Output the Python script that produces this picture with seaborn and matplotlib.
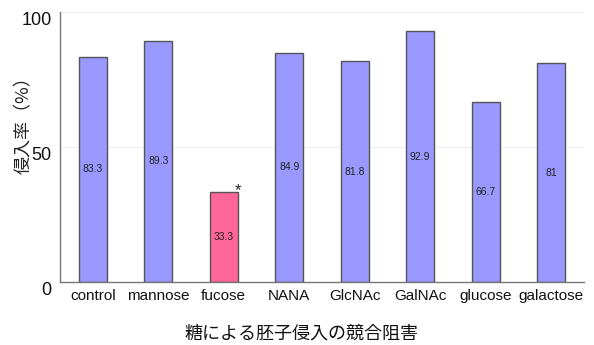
import matplotlib
matplotlib.use("Agg")
import matplotlib.pyplot as plt
import seaborn as sns
import pandas as pd

categories = ["control", "mannose", "fucose", "NANA", "GlcNAc", "GalNAc", "glucose", "galactose"]
values = [83.3, 89.3, 33.3, 84.9, 81.8, 92.9, 66.7, 81]
value_labels = ["83.3", "89.3", "33.3", "84.9", "81.8", "92.9", "66.7", "81"]
highlight = ["fucose"]
yticks = [0, 50, 100]

sns.set_style("white")
plt.rcParams['font.family'] = ['Liberation Sans', 'Noto Sans CJK JP', 'DejaVu Sans']

df = pd.DataFrame({"cat": categories, "val": values})
palette = {c: ("#FF6699" if c in highlight else "#9999FF") for c in categories}

fig = plt.figure(figsize=(5.94, 3.45), dpi=100)
ax = fig.add_axes([0.101, 0.183, 0.882, 0.782])
sns.barplot(data=df, x="cat", y="val", hue="cat", palette=palette, width=0.43,
            edgecolor="#555555", linewidth=1.0, legend=False, ax=ax, saturation=1)

ax.set_ylim(0, 100)
ax.set_xlim(-0.5, len(categories) - 0.5)
ax.set_yticks(yticks)
ax.set_yticklabels([str(t) for t in yticks], fontsize=13, color="#111111")
for lab in ax.get_yticklabels():
    lab.set_verticalalignment("top")
ax.yaxis.grid(True, color="#eeeeee", linewidth=0.8)
ax.set_axisbelow(True)
ax.set_xticks(range(len(categories)))
ax.set_xticklabels(categories, fontsize=11, color="#111111")
ax.set_xticks([i + 0.5 for i in range(len(categories) - 1)], minor=True)
ax.tick_params(axis="x", which="major", length=0, pad=5)
ax.tick_params(axis="x", which="minor", length=3, direction="in", color="#888888")
ax.tick_params(axis="y", length=3, direction="out", color="#888888", pad=3)
for s in ["top", "right"]:
    ax.spines[s].set_visible(False)
for s in ["left", "bottom"]:
    ax.spines[s].set_color("#777777")
    ax.spines[s].set_linewidth(1.0)

for i, (v, lab) in enumerate(zip(values, value_labels)):
    ax.text(i, v / 2, lab, ha="center", va="center", fontsize=7.5, color="#222222")

fi = categories.index("fucose")
ax.text(fi + 0.22, values[fi] + 0.5, "*", ha="center", va="center", fontsize=12, color="#222222")

ax.set_xlabel("")
ax.set_ylabel("")
fig.text(0.040, 0.65, "侵入率（%）", ha="center", va="center", rotation=90,
         fontsize=13, color="#222222", family=['Noto Sans CJK JP', 'DejaVu Sans'])
fig.text(0.507, 0.032, "糖による胚子侵入の競合阻害", ha="center", va="center",
         fontsize=13, color="#111111", family=['Noto Sans CJK JP', 'DejaVu Sans'])

for lab in ax.get_yticklabels():
    lab.set_verticalalignment("top")
fig.savefig("out.png", dpi=100)
